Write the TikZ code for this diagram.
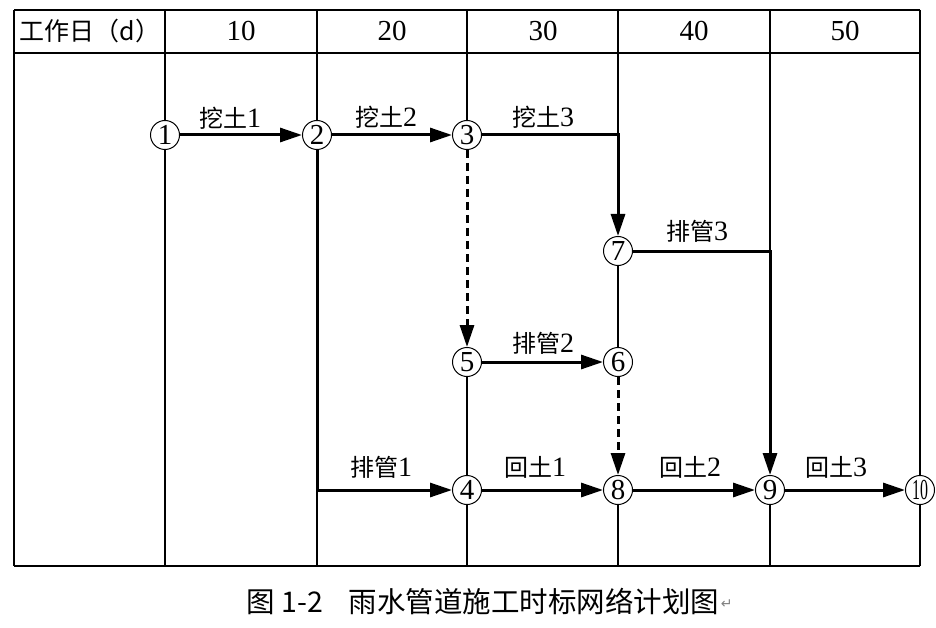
\documentclass[tikz,border=0pt]{standalone}
\usepackage{fontspec}
\setmainfont{Liberation Serif}
\newfontfamily\cjk{Noto Sans CJK SC}
\newfontfamily\symf{DejaVu Sans}
\usetikzlibrary{arrows.meta}
\newcommand\dg[1]{{\rmfamily\fontsize{28}{28}\selectfont #1}}
\begin{document}
\begin{tikzpicture}[x=1pt,y=-1pt,
  grid/.style={line width=1.4pt},
  act/.style={line width=3pt,-{Triangle[length=22pt,width=14pt]}},
  dum/.style={line width=3pt,dash pattern=on 8pt off 5pt,-{Triangle[length=22pt,width=14pt]}},
  ev/.style={circle,draw,line width=1pt,fill=white,minimum size=29pt,inner sep=0pt,font=\fontsize{29}{29}\selectfont},
  lab/.style={font=\cjk\fontsize{24}{24}\selectfont},
  hdr/.style={font=\fontsize{29}{29}\selectfont}]
\useasboundingbox (0,0) rectangle (936,628);
% events
\node[ev] (n1) at (165,135) {1};
\node[ev] (n2) at (317,135) {2};
\node[ev] (n3) at (467,135) {3};
\node[ev] (n7) at (618,251) {7};
\node[ev] (n5) at (467,362) {5};
\node[ev] (n6) at (618,362) {6};
\node[ev] (n4) at (467,490) {4};
\node[ev] (n8) at (618,490) {8};
\node[ev] (n9) at (770,490) {9};
\node[ev] (n10) at (920,490) {\scalebox{0.55}[1]{10}};
% table frame
\draw[grid] (14,10) -- (920,10);
\draw[grid] (14,53) -- (920,53);
\draw[grid] (14,566) -- (920,566);
\draw[grid] (14,10) -- (14,566);
\draw[grid] (920,10) -- (n10);
\draw[grid] (n10) -- (920,566);
\draw[grid] (165,10) -- (n1);
\draw[grid] (n1) -- (165,566);
\draw[grid] (317,10) -- (n2);
\draw[grid] (317,490) -- (317,566);
\draw[grid] (467,10) -- (n3);
\draw[grid] (n5) -- (n4);
\draw[grid] (n4) -- (467,566);
\draw[grid] (618,10) -- (618,135);
\draw[grid] (n7) -- (n6);
\draw[grid] (n8) -- (618,566);
\draw[grid] (770,10) -- (770,251);
\draw[grid] (n9) -- (770,566);
% header
\node[hdr] (h0) at (90,31) {\cjk\fontsize{25}{25}\selectfont 工作日（d）};
\node[hdr] (h1) at (241,31) {10};
\node[hdr] (h2) at (392,31) {20};
\node[hdr] (h3) at (543,31) {30};
\node[hdr] (h4) at (694,31) {40};
\node[hdr] (h5) at (845,31) {50};
% activities
\draw[act] (n1) -- (n2);
\draw[act] (n2) -- (n3);
\draw[act] (n3) -- (618,135) -- (n7);
\draw[act] (n7) -- (770,251) -- (n9);
\draw[act] (n2) -- (317,490) -- (n4);
\draw[act] (n5) -- (n6);
\draw[act] (n4) -- (n8);
\draw[act] (n8) -- (n9);
\draw[act] (n9) -- (n10);
\draw[dum] (n3) -- (n5);
\draw[dum] (n6) -- (n8);
% labels
\node[lab] (l1) at (230,118) {挖土\dg{1}};
\node[lab] (l2) at (386,117) {挖土\dg{2}};
\node[lab] (l3) at (543,117) {挖土\dg{3}};
\node[lab] (l4) at (697,231) {排管\dg{3}};
\node[lab] (l5) at (543,343) {排管\dg{2}};
\node[lab] (l6) at (381,467) {排管\dg{1}};
\node[lab] (l7) at (535,467) {回土\dg{1}};
\node[lab] (l8) at (690,467) {回土\dg{2}};
\node[lab] (l9) at (836,467) {回土\dg{3}};
% caption
\node[font=\cjk\fontsize{28.5}{28.5}\selectfont,anchor=west] (cap) at (243,601) {图 1-2\hspace{0.9em}雨水管道施工时标网络计划图};
\node[font=\symf\fontsize{14}{14}\selectfont,text=gray,anchor=west,inner sep=0pt] (ret) at ([xshift=-2pt,yshift=-3pt]cap.east) {↵};
\end{tikzpicture}
\end{document}
